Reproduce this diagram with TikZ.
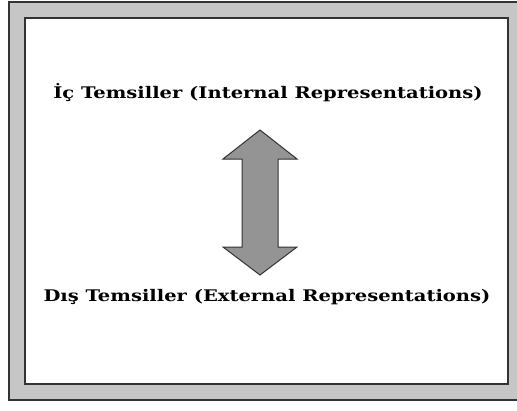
\documentclass[tikz,border=0pt]{standalone}
\usepackage{fontspec}
\setmainfont{DejaVu Serif}
\newcommand{\widetext}[1]{\scalebox{1.22}[1]{#1}}
\begin{document}
\begin{tikzpicture}[x=1pt,y=-1pt,
  outerframe/.style={fill=gray!45, draw=black!80, line width=1.5pt},
  innerframe/.style={fill=white, draw=black!80, line width=2pt},
  label/.style={font=\fontsize{16}{19}\selectfont\bfseries, inner sep=0pt},
  dblarrow/.style={fill=black!42, draw=black!80, line width=1pt, line join=miter}]
  \useasboundingbox (0,0) rectangle (517,410);
  % frames
  \path[outerframe] (9,2) rectangle (524,400);
  \path[innerframe] (25,18) rectangle (508,384);
  % labels
  \node[label] (top) at (268,93) {\widetext{İç Temsiller (Internal Representations)}};
  \node[label] (bot) at (267,297) {\widetext{Dış Temsiller (External Representations)}};
  % double-headed block arrow
  \path[dblarrow] (260,130) -- (297,159) -- (278,159) -- (278,247) -- (297,247)
    -- (260,275) -- (223,247) -- (242,247) -- (242,159) -- (223,159) -- cycle;
\end{tikzpicture}
\end{document}
